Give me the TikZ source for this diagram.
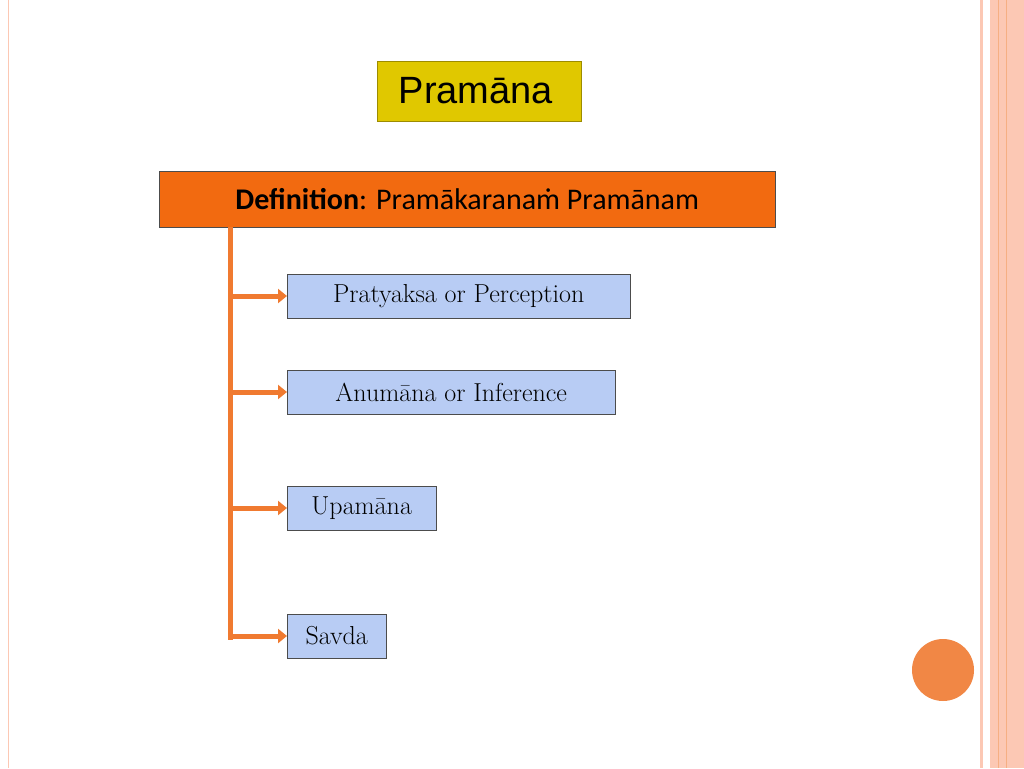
\documentclass[tikz,border=0pt]{standalone}
\usepackage{fontspec}
\newfontfamily\arialf{Liberation Sans}
\newfontfamily\calf{Carlito}
\usetikzlibrary{arrows.meta}
\definecolor{orn}{HTML}{F07A30}
\definecolor{stripe}{HTML}{FCC8B4}
\definecolor{gold}{HTML}{E0C800}
\definecolor{defc}{HTML}{F26A10}
\definecolor{itemc}{HTML}{B8CCF4}
\tikzset{item/.style={draw=black!70,fill=itemc,anchor=west,minimum height=44,inner xsep=5,font=\fontsize{26}{28}\selectfont},
conn/.style={orn,line width=5,-{Triangle[length=9,width=14]}},
}
\begin{document}
\begin{tikzpicture}[x=1pt,y=-1pt]
\useasboundingbox (0,0) rectangle (1024,768);
\fill[white] (0,0) rectangle (1024,768);
\fill[stripe] (990,0) rectangle (1024,768);
\fill[stripe] (980,0) rectangle (983,768);
\draw[orn!60,line width=0.6] (998,0) -- (998,768) (1006,0)--(1006,768);
\draw[stripe,line width=1] (8,0)--(8,768);
\fill[orn!90] (943,670) circle (31);
\node[draw=gold!70!black,fill=gold,minimum width=204,minimum height=60,font=\arialf\fontsize{38}{40}\selectfont,anchor=center] (t) at (479,91) {Pramāna\,};
\node[draw=black!70,fill=defc,minimum width=616,minimum height=56,anchor=west,font=\calf\fontsize{30}{32}\selectfont,inner xsep=8] (d) at (159,199) {\textbf{Definition}: Pramākaranaṁ Pramānam\hfill};
\node[item,minimum width=343] (a) at (287,296) {Pratyaksa or Perception};
\node[item,minimum width=328] (b) at (287,392) {Anumāna or Inference};
\node[item,minimum width=149] (c) at (287,508) {Upamāna};
\node[item,minimum width=99] (e) at (287,636) {Savda};
\coordinate (top) at (230,227);
\coordinate (bot) at (230,640);
\draw[orn,line width=5] (top)--(bot);
\foreach \n in {a,b,c,e} \draw[conn] (230,0 |- \n.west) -- (\n.west);
\end{tikzpicture}
\end{document}
